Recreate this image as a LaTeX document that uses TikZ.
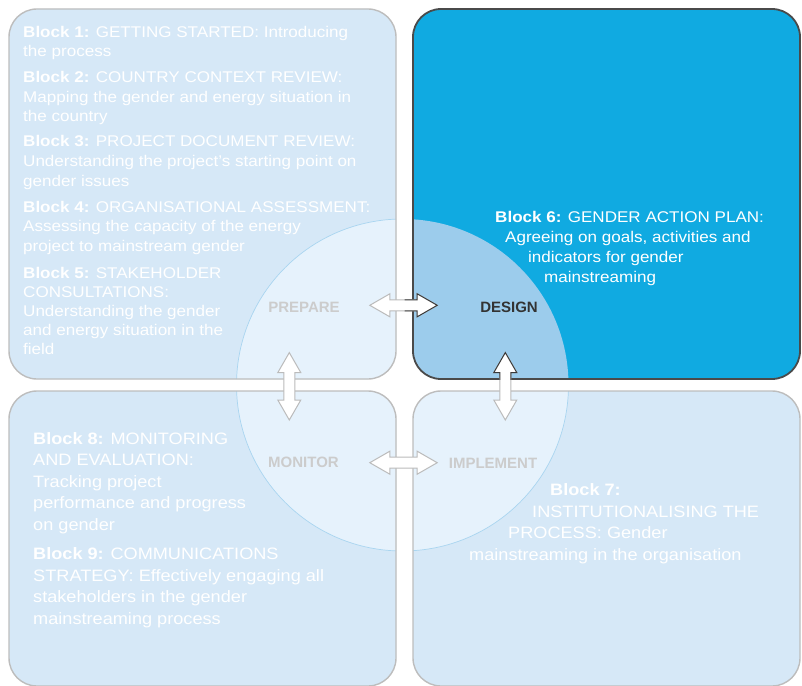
\documentclass[tikz,border=0pt]{standalone}
\usepackage{fontspec}
\setmainfont{Liberation Sans}[FakeStretch=1.1]
\newfontfamily\labfont{Liberation Sans}
\definecolor{lightbox}{HTML}{D6E8F7}
\definecolor{lightcirc}{HTML}{E6F2FC}
\definecolor{darkbox}{HTML}{10AAE1}
\definecolor{darkcirc}{HTML}{9CCCEC}
\definecolor{lightborder}{HTML}{BDBDBD}
\definecolor{darkborder}{HTML}{4A4A4A}
\definecolor{circline}{HTML}{A9D5F0}
\definecolor{labgray}{HTML}{CCCCCC}
\definecolor{labdark}{HTML}{333333}
\definecolor{arrgray}{HTML}{BBBBBB}
\definecolor{arrdark}{HTML}{3A3A3A}
\tikzset{
  boxshape/.style={rounded corners=28bp},
  blk/.style={anchor=base west, align=left, inner sep=0pt, text=white,
    font=\fontsize{15.5bp}{19.5bp}\selectfont},
  blkbig/.style={blk, font=\fontsize{16.5bp}{21.5bp}\selectfont},
  blk6/.style={blk, font=\fontsize{15.5bp}{19.7bp}\selectfont},
  phase/.style={inner sep=0pt, font=\labfont\bfseries\fontsize{15bp}{18bp}\selectfont, text=labgray},
  dblarrow/.pic={
    \path[pic actions] (-33.7,0) -- (-13.7,11.5) -- (-13.7,5.5) -- (13.7,5.5) -- (13.7,11.5)
      -- (33.7,0) -- (13.7,-11.5) -- (13.7,-5.5) -- (-13.7,-5.5) -- (-13.7,-11.5) -- cycle;
  },
  arrstyle/.style={fill=white, draw=arrgray, line width=1bp, line join=miter},
  arrdarkstyle/.style={fill=white, draw=arrdark, line width=1bp, line join=miter}
}
\begin{document}
\begin{tikzpicture}[x=1bp,y=-1bp]
\useasboundingbox (0,0) rectangle (802,686);
\fill[white] (0,0) rectangle (802,686);

% boxes
\fill[lightbox, boxshape] (9,9) rectangle (396,379);
\fill[darkbox, boxshape] (413,9) rectangle (800,379);
\fill[lightbox, boxshape] (9,391) rectangle (396,686);
\fill[lightbox, boxshape] (413,391) rectangle (800,686);

% central circle
\begin{scope}
  \clip (402.5,385) circle [radius=166];
  \fill[lightcirc, boxshape] (9,9) rectangle (396,379);
  \fill[darkcirc, boxshape] (413,9) rectangle (800,379);
  \fill[lightcirc, boxshape] (9,391) rectangle (396,686);
  \fill[lightcirc, boxshape] (413,391) rectangle (800,686);
\end{scope}
\begin{scope}
  \clip[boxshape] (9,9) rectangle (396,379) (9,391) rectangle (396,686) (413,391) rectangle (800,686);
  \draw[circline, line width=0.7bp] (402.5,385) circle [radius=166];
\end{scope}

% outlines
\draw[lightborder, line width=1.4bp, boxshape] (9,9) rectangle (396,379);
\draw[darkborder, line width=1.8bp, boxshape] (413,9) rectangle (800,379);
\draw[lightborder, line width=1.4bp, boxshape] (9,391) rectangle (396,686);
\draw[lightborder, line width=1.4bp, boxshape] (413,391) rectangle (800,686);

% texts (anchored at the baseline of their last line)
\node[blk] (b1) at (23,57) {\textbf{Block 1:} GETTING STARTED: Introducing\\the process};
\node[blk] (b2) at (23,122) {\textbf{Block 2:} COUNTRY CONTEXT REVIEW:\\Mapping the gender and energy situation in\\the country};
\node[blk] (b3) at (23,186) {\textbf{Block 3:} PROJECT DOCUMENT REVIEW:\\Understanding the project’s starting point on\\gender issues};
\node[blk] (b4) at (23,251) {\textbf{Block 4:} ORGANISATIONAL ASSESSMENT:\\Assessing the capacity of the energy\\project to mainstream gender};
\node[blk, font=\fontsize{15.5bp}{19bp}\selectfont] (b5) at (23,354) {\textbf{Block 5:} STAKEHOLDER\\CONSULTATIONS:\\Understanding the gender\\and energy situation in the\\field};
\node[blk6] (b6) at (495,282) {\textbf{Block 6:} GENDER ACTION PLAN:\\\hspace*{10bp}Agreeing on goals, activities and\\\hspace*{33bp}indicators for gender\\\hspace*{49bp}mainstreaming};
\node[blkbig] (b7) at (469,560) {\hspace*{81bp}\textbf{Block 7:}\\\hspace*{63bp}INSTITUTIONALISING THE\\\hspace*{39bp}PROCESS: Gender\\mainstreaming in the organisation};
\node[blkbig] (b8) at (33,530) {\textbf{Block 8:} MONITORING\\AND EVALUATION:\\Tracking project\\performance and progress\\on gender};
\node[blkbig] (b9) at (33,624) {\textbf{Block 9:} COMMUNICATIONS\\STRATEGY: Effectively engaging all\\stakeholders in the gender\\mainstreaming process};

% phase labels
\node[phase] (prepare) at (304,307) {PREPARE};
\node[phase, text=labdark] (design) at (509,307) {DESIGN};
\node[phase] (monitor) at (303.5,462) {MONITOR};
\node[phase] (implement) at (493,463) {IMPLEMENT};

% arrows
\coordinate (aTop) at (403.5,305.3);
\coordinate (aBot) at (403.5,462.7);
\coordinate (aLeft) at (289.3,386.3);
\coordinate (aRight) at (505.3,386.3);
\pic[arrstyle] at (aTop) {dblarrow};
\pic[arrstyle] at (aBot) {dblarrow};
\pic[arrstyle, rotate=90] at (aLeft) {dblarrow};
\pic[arrstyle, rotate=90] at (aRight) {dblarrow};
\begin{scope}
  \clip (404.5,0) rectangle (802,379.5);
  \pic[arrdarkstyle] at (aTop) {dblarrow};
  \pic[arrdarkstyle, rotate=90] at (aRight) {dblarrow};
\end{scope}
\end{tikzpicture}
\end{document}
